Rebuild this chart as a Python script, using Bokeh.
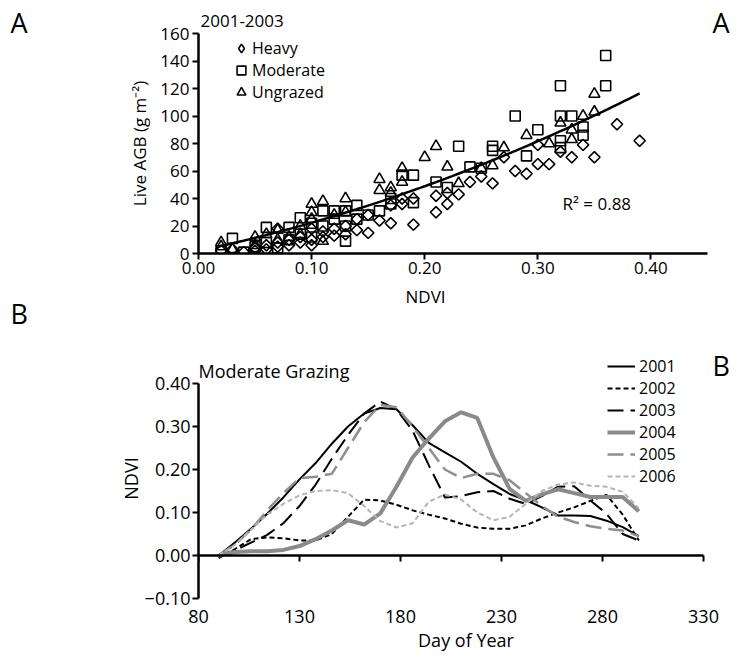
import numpy as np
from bokeh.plotting import figure
from bokeh.models import (Label, Legend, LegendItem, LinearAxis, FixedTicker,
                          CustomJSTickFormatter)
from bokeh.layouts import column, row
from bokeh.embed import file_html
from bokeh.resources import INLINE

FONT = "Open Sans"

# ---------------- Panel A data (2001-2003) ----------------
heavy_ndvi = [0.02, 0.03, 0.04, 0.05, 0.05, 0.06, 0.06, 0.07, 0.07, 0.07, 0.08, 0.08, 0.09, 0.09,
              0.10, 0.10, 0.10, 0.11, 0.11, 0.12, 0.12, 0.13, 0.13, 0.14, 0.14, 0.15, 0.15, 0.16,
              0.17, 0.17, 0.18, 0.18, 0.19, 0.19, 0.21, 0.21, 0.22, 0.22, 0.23, 0.24, 0.25, 0.26,
              0.27, 0.28, 0.29, 0.30, 0.30, 0.31, 0.32, 0.33, 0.34, 0.35, 0.37, 0.39]
heavy_agb = [2, 3, 1, 4, 2, 6, 3, 18, 8, 5, 10, 6, 12, 8,
             18, 10, 6, 16, 12, 13, 18, 14, 20, 17, 25, 15, 28, 24,
             22, 35, 36, 40, 40, 21, 30, 42, 36, 44, 43, 52, 56, 51,
             70, 60, 58, 65, 79, 65, 74, 70, 79, 70, 94, 82]

moderate_ndvi = [0.02, 0.03, 0.04, 0.05, 0.06, 0.06, 0.07, 0.08, 0.08, 0.09, 0.09, 0.10, 0.10,
                 0.11, 0.11, 0.12, 0.12, 0.13, 0.13, 0.13, 0.14, 0.14, 0.15, 0.16, 0.17, 0.17,
                 0.18, 0.19, 0.19, 0.21, 0.22, 0.23, 0.24, 0.25, 0.26, 0.26, 0.28, 0.29, 0.30,
                 0.32, 0.32, 0.32, 0.32, 0.33, 0.34, 0.34, 0.36, 0.36]
moderate_agb = [2, 11, 1, 5, 19, 8, 4, 19, 10, 26, 14, 22, 12,
                31, 20, 31, 25, 31, 9, 20, 35, 25, 28, 31, 36, 40,
                57, 57, 37, 52, 48, 78, 63, 62, 78, 75, 100, 71, 90,
                122, 100, 82, 77, 100, 92, 86, 144, 122]

ungrazed_ndvi = [0.02, 0.02, 0.03, 0.05, 0.05, 0.06, 0.07, 0.07, 0.08, 0.09, 0.09, 0.10, 0.10,
                 0.10, 0.11, 0.11, 0.12, 0.13, 0.13, 0.16, 0.16, 0.17, 0.17, 0.18, 0.18, 0.20,
                 0.21, 0.22, 0.23, 0.25, 0.26, 0.27, 0.29, 0.31, 0.32, 0.33, 0.33, 0.34, 0.35, 0.35]
ungrazed_agb = [8, 5, 3, 12, 6, 14, 17, 10, 12, 20, 14, 36, 30,
                25, 38, 9, 28, 40, 30, 54, 46, 48, 44, 62, 52, 70,
                78, 63, 51, 62, 64, 77, 86, 80, 95, 90, 83, 100, 116, 103]
groups_A = ["Heavy", "Moderate", "Ungrazed"]

# fitted curve (AGB = c0 + c1*NDVI + c2*NDVI^2), as drawn in the figure
fit_c0, fit_c1, fit_c2 = 1.95, 173.3, 308.0
fit_ndvi_start, fit_ndvi_end = 0.016, 0.39
r2_label = "R\u00b2 = 0.88"

xticks_A = [0.0, 0.1, 0.2, 0.3, 0.4]
yticks_A = [0, 20, 40, 60, 80, 100, 120, 140, 160]

# ---------------- Panel B data (Moderate grazing NDVI) ----------------
doy = [90, 98, 106, 114, 122, 130, 138, 146, 154, 162, 170, 178, 186, 194,
       202, 210, 218, 226, 234, 242, 250, 258, 266, 274, 282, 290, 298]
ndvi_2001 = [0.000, 0.030, 0.062, 0.097, 0.135, 0.177, 0.215, 0.260, 0.300, 0.330, 0.343, 0.340,
             0.303, 0.262, 0.240, 0.218, 0.190, 0.166, 0.143, 0.129, 0.112, 0.093, 0.093, 0.092,
             0.081, 0.066, 0.045]
ndvi_2002 = [-0.006, 0.015, 0.038, 0.042, 0.040, 0.035, 0.035, 0.050, 0.090, 0.130, 0.128, 0.118,
             0.105, 0.095, 0.086, 0.074, 0.065, 0.062, 0.062, 0.070, 0.086, 0.100, 0.112, 0.127,
             0.141, 0.095, 0.035]
ndvi_2003 = [0.000, 0.012, 0.030, 0.048, 0.075, 0.115, 0.165, 0.225, 0.280, 0.330, 0.358, 0.340,
             0.290, 0.210, 0.135, 0.138, 0.147, 0.150, 0.132, 0.120, 0.138, 0.160, 0.161, 0.128,
             0.097, 0.050, 0.035]
ndvi_2004 = [0.000, 0.008, 0.010, 0.010, 0.013, 0.022, 0.038, 0.058, 0.082, 0.072, 0.098, 0.160,
             0.228, 0.272, 0.312, 0.333, 0.320, 0.228, 0.155, 0.127, 0.142, 0.154, 0.145, 0.136,
             0.136, 0.136, 0.103]
ndvi_2005 = [0.000, 0.025, 0.060, 0.105, 0.145, 0.180, 0.183, 0.190, 0.250, 0.310, 0.350, 0.345,
             0.300, 0.250, 0.200, 0.180, 0.190, 0.190, 0.175, 0.145, 0.115, 0.090, 0.078, 0.068,
             0.062, 0.058, 0.045]
ndvi_2006 = [0.000, 0.025, 0.060, 0.095, 0.120, 0.140, 0.150, 0.152, 0.145, 0.115, 0.080, 0.065,
             0.075, 0.125, 0.142, 0.130, 0.100, 0.082, 0.090, 0.120, 0.150, 0.165, 0.170, 0.162,
             0.160, 0.148, 0.110]
years = ["2001", "2002", "2003", "2004", "2005", "2006"]
series_B = [ndvi_2001, ndvi_2002, ndvi_2003, ndvi_2004, ndvi_2005, ndvi_2006]

xticks_B = [80, 130, 180, 230, 280, 330]
yticks_B = [-0.1, 0.0, 0.1, 0.2, 0.3, 0.4]

# line styles (color, width, dash)
line_styles = [("black", 2, "solid"), ("black", 2, "5 3"), ("black", 2, "16 7"),
               ("#8a8a8a", 4, "solid"), ("#8f8f8f", 2.5, "16 7"), ("#b4b4b4", 2, "5 3")]


def style_axis(ax, size="17px"):
    ax.axis_line_width = 2.5
    ax.axis_line_color = "black"
    ax.major_tick_line_width = 2
    ax.major_tick_line_color = "black"
    ax.major_tick_out = 6
    ax.major_tick_in = 0
    ax.minor_tick_line_color = None
    ax.major_label_text_font = FONT
    ax.major_label_text_font_size = size
    ax.major_label_text_color = "black"
    ax.axis_label_text_font = FONT
    ax.axis_label_text_font_size = size
    ax.axis_label_text_font_style = "normal"
    ax.axis_label_text_color = "black"


def frame_text(p, x, y, text, size="17px", align="left", angle=0.0, units="screen"):
    p.add_layout(Label(x=x, y=y, x_units=units, y_units=units, text=text,
                       text_font=FONT, text_font_size=size, text_baseline="middle",
                       text_align=align, text_color="black", angle=angle))


def one_item_legend(p, label, renderer, loc, glyph_w, standoff, size="16px"):
    lg = Legend(items=[LegendItem(label=label, renderers=[renderer])], location=loc)
    lg.background_fill_alpha = 0
    lg.border_line_alpha = 0
    lg.padding = 0
    lg.margin = 0
    lg.spacing = 0
    lg.glyph_width = glyph_w
    lg.glyph_height = 22
    lg.label_height = 19
    lg.label_standoff = standoff
    lg.label_text_font = FONT
    lg.label_text_font_size = size
    lg.label_text_color = "black"
    p.add_layout(lg)


def strip(width, frame_h, bottom, page_top):
    # narrow plot whose frame lines up with the neighbouring plot's frame;
    # its data units equal page pixels (y grows downwards)
    s = figure(frame_width=width, frame_height=frame_h,
               x_range=(0, width), y_range=(page_top + frame_h, page_top),
               min_border_left=0, min_border_right=0, min_border_top=0,
               min_border_bottom=bottom, toolbar_location=None, output_backend="svg",
               x_axis_location=None, y_axis_location=None)
    s.outline_line_color = None
    s.title.visible = False
    s.xgrid.visible = False
    s.ygrid.visible = False
    return s


fmt2 = CustomJSTickFormatter(code="return (tick < -1e-9 ? '\u2212' : '') + Math.abs(tick).toFixed(2);")

# ---------------- Figure A ----------------
A_BOTTOM = 31
pA = figure(frame_width=535, frame_height=253, x_range=(0, 0.473), y_range=(0, 184),
            output_backend="svg", toolbar_location=None,
            min_border_left=46, min_border_right=0, min_border_top=0, min_border_bottom=A_BOTTOM)
pA.title.visible = False
pA.outline_line_color = None
pA.xgrid.visible = False
pA.ygrid.visible = False
for ax in pA.axis:
    style_axis(ax, "17px")
pA.xaxis.ticker = FixedTicker(ticks=xticks_A)
pA.xaxis.formatter = fmt2
pA.xaxis.bounds = (0, 0.45)
pA.xaxis.major_label_standoff = 2
pA.yaxis.ticker = FixedTicker(ticks=yticks_A)
pA.yaxis.bounds = (0, 160)
pA.yaxis.major_label_standoff = 3

rH = pA.scatter(heavy_ndvi, heavy_agb, marker="square", angle=np.pi / 4, size=8,
                fill_color=None, line_color="black", line_width=1.6)
rM = pA.scatter(moderate_ndvi, moderate_agb, marker="square", size=10,
                fill_color=None, line_color="black", line_width=1.6)
rU = pA.scatter(ungrazed_ndvi, ungrazed_agb, marker="triangle", size=11,
                fill_color=None, line_color="black", line_width=1.6)
# legend key for the diamond symbol (legend glyphs are drawn unrotated)
rH_key = pA.scatter(heavy_ndvi[:1], heavy_agb[:1], marker="diamond", size=0,
                    fill_color=None, line_color="black", line_width=1.6)

fx = np.linspace(fit_ndvi_start, fit_ndvi_end, 80)
fy = fit_c0 + fit_c1 * fx + fit_c2 * fx ** 2
pA.line(fx, fy, line_color="black", line_width=2.5)

for lab, rr, yl in zip(groups_A, [rH_key, rM, rU], [194, 172, 150]):
    one_item_legend(pA, lab, rr, (32, yl), 22, 0)

frame_text(pA, 2, 233, "2001-2003")
frame_text(pA, 364, 50, r2_label)
frame_text(pA, 514, 231, "A", size="27px")

# ---------------- Figure B ----------------
B_BOTTOM = 62
pB = figure(frame_width=535, frame_height=314, x_range=(80, 344.85), y_range=(-0.1, 0.6302),
            output_backend="svg", toolbar_location=None,
            min_border_left=57, min_border_right=0, min_border_top=0, min_border_bottom=B_BOTTOM)
pB.title.visible = False
pB.outline_line_color = None
pB.xgrid.visible = False
pB.ygrid.visible = False
for ax in pB.axis:
    style_axis(ax, "18px")
pB.yaxis.ticker = FixedTicker(ticks=yticks_B)
pB.yaxis.formatter = fmt2
pB.yaxis.bounds = (-0.1, 0.4)
pB.yaxis.major_label_standoff = 2
# bottom axis: tick labels only
pB.xaxis.ticker = FixedTicker(ticks=xticks_B)
pB.xaxis.axis_label = "Day of Year"
pB.xaxis.axis_line_color = None
pB.xaxis.major_tick_line_color = None
pB.xaxis.major_tick_out = 0
pB.xaxis.major_label_standoff = 11
pB.xaxis.axis_label_standoff = 2
# axis line crossing at NDVI = 0
zero_axis = LinearAxis(fixed_location=0, ticker=FixedTicker(ticks=xticks_B), bounds=(80, 330))
style_axis(zero_axis, "18px")
zero_axis.major_tick_out = 0
zero_axis.major_tick_in = 6
zero_axis.major_label_standoff = 0
zero_axis.major_label_text_font_size = "0px"
zero_axis.major_label_text_color = None
pB.add_layout(zero_axis, "above")

leg_y_B = [221, 199, 177, 155, 133, 111]
for yr, vals, (col, lw, dash), yl in zip(years, series_B, line_styles, leg_y_B):
    r = pB.line(doy, vals, line_color=col, line_width=lw, line_dash=dash)
    one_item_legend(pB, yr, r, (409, yl), 28, 4)

frame_text(pB, 0, 228, "Moderate Grazing", size="18px")
frame_text(pB, 514, 233, "B", size="27px")
frame_text(pB, 227, 302, "NDVI", align="center")   # x-axis title of panel A

# ---------------- left strips (panel letters, y-axis titles) ----------------
sA = strip(152, 253, A_BOTTOM, 0)
frame_text(sA, 10, 22, "A", size="27px", units="data")
frame_text(sA, 139, 143, "Live AGB (g m\u207b\u00b2)", align="center", angle=np.pi / 2, units="data")

sB = strip(141, 314, B_BOTTOM, 253 + A_BOTTOM)
frame_text(sB, 10, 313, "B", size="27px", units="data")
frame_text(sB, 130, 478, "NDVI", size="18px", align="center", angle=np.pi / 2, units="data")

layout = column(row(sA, pA), row(sB, pB))
open("out.html", "w").write(file_html(layout, INLINE))
